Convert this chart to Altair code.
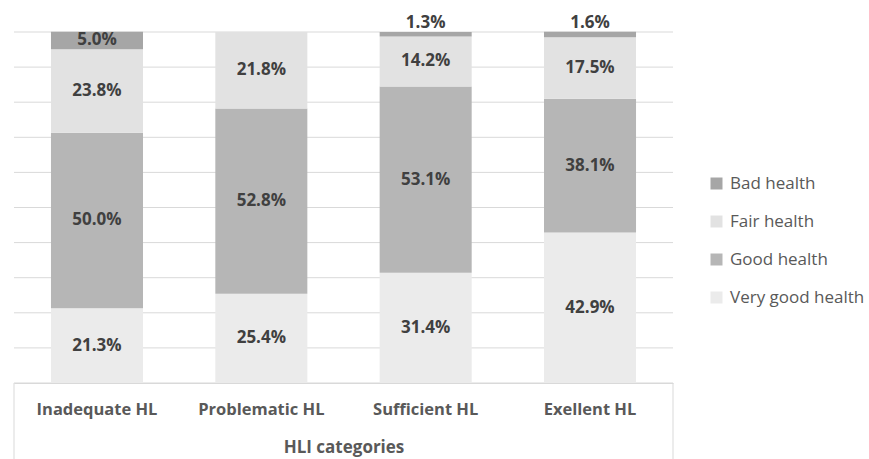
import altair as alt
import pandas as pd

categories = ["Inadequate HL", "Problematic HL", "Sufficient HL", "Exellent HL"]
statuses = ["Very good health", "Good health", "Fair health", "Bad health"]
legend_order = ["Bad health", "Fair health", "Good health", "Very good health"]
legend_colors = ["#a6a6a6", "#e2e2e2", "#b6b6b6", "#ebebeb"]

very_good = [21.3, 25.4, 31.4, 42.9]
good = [50.0, 52.8, 53.1, 38.1]
fair = [23.8, 21.8, 14.2, 17.5]
bad = [5.0, 0.0, 1.3, 1.6]

grid_values = [0, 10, 20, 30, 40, 50, 60, 70, 80, 90, 100]

rows = []
for i, c in enumerate(categories):
    for k, (s, vals) in enumerate(zip(statuses, [very_good, good, fair, bad])):
        rows.append({"category": c, "status": s, "value": vals[i], "order": k})
df = pd.DataFrame(rows)

FONT = "Open Sans"
W, H = 659, 351

base = (
    alt.Chart(df)
    .transform_filter("datum.value > 0")
    .transform_stack(
        stack="value",
        as_=["v0", "v1"],
        groupby=["category"],
        sort=[alt.SortField("order", order="ascending")],
    )
    .transform_calculate(
        mid="(datum.v0 + datum.v1) / 2",
        label="format(datum.value, '.1f') + '%'",
    )
)

xaxis = alt.Axis(
    title="HLI categories",
    labelAngle=0,
    labelFont=FONT,
    labelFontWeight="bold",
    labelFontSize=16.5,
    labelColor="#595959",
    labelPadding=18,
    titleFont=FONT,
    titleFontWeight="bold",
    titleFontSize=17,
    titleColor="#595959",
    titlePadding=22,
    ticks=False,
    domainColor="#d9d9d9",
    domainWidth=1,
)
xscale = alt.Scale(paddingInner=0.44, paddingOuter=0.225)
yscale = alt.Scale(domain=[0, 100], nice=False)
yaxis_none = None

grid = (
    alt.Chart(pd.DataFrame({"g": grid_values}))
    .mark_rule(color="#d9d9d9", strokeWidth=1)
    .encode(y=alt.Y("g:Q", scale=yscale, axis=yaxis_none))
)

bars = base.mark_bar().encode(
    x=alt.X("category:N", sort=categories, scale=xscale, axis=xaxis),
    y=alt.Y("v0:Q", scale=yscale, axis=yaxis_none),
    y2="v1:Q",
    color=alt.Color(
        "status:N",
        scale=alt.Scale(domain=legend_order, range=legend_colors),
        legend=alt.Legend(
            title=None,
            orient="none",
            legendX=694,
            legendY=143,
            labelFont=FONT,
            labelFontSize=17,
            labelColor="#595959",
            labelOffset=5,
            symbolType="square",
            symbolSize=144,
            symbolStrokeWidth=0,
            rowPadding=20,
        ),
    ),
)

text_mid = (
    base.transform_filter("datum.value >= 3")
    .mark_text(font=FONT, fontWeight="bold", fontSize=17, color="#404040")
    .encode(
        x=alt.X("category:N", sort=categories, scale=xscale, axis=xaxis),
        y=alt.Y("mid:Q", scale=yscale, axis=yaxis_none),
        text="label:N",
    )
)

text_top = (
    base.transform_filter("datum.value < 3")
    .mark_text(font=FONT, fontWeight="bold", fontSize=17, color="#404040", dy=-9)
    .encode(
        x=alt.X("category:N", sort=categories, scale=xscale, axis=xaxis),
        y=alt.Y("v1:Q", scale=yscale, axis=yaxis_none),
        text="label:N",
    )
)

frame_df = pd.DataFrame({"a": [0]})
left_rule = alt.Chart(frame_df).mark_rule(color="#d9d9d9").encode(
    x=alt.value(0), y=alt.value(H), y2=alt.value(H + 80)
)
right_rule = alt.Chart(frame_df).mark_rule(color="#d9d9d9").encode(
    x=alt.value(W), y=alt.value(H), y2=alt.value(H + 80)
)

chart = (
    alt.layer(grid, bars, text_mid, text_top, left_rule, right_rule)
    .properties(
        width=W,
        height=H,
        autosize=alt.AutoSizeParams(type="none"),
        padding={"left": 14, "top": 32, "right": 196, "bottom": 76},
        background="#ffffff",
    )
    .configure_view(stroke=None)
)

chart.save("out.html", embed_options={"renderer": "svg", "actions": False})
